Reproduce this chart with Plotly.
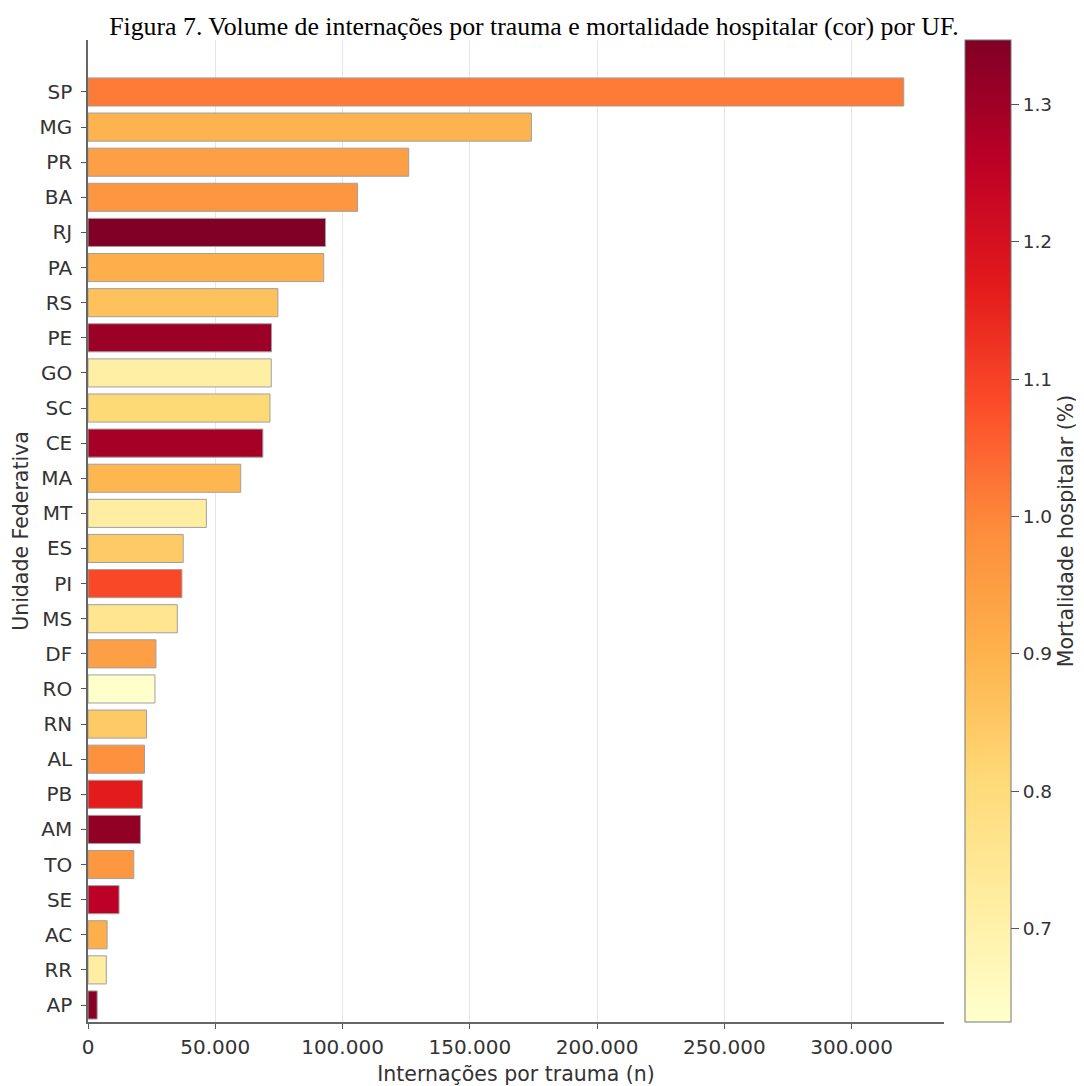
import plotly.graph_objects as go

ufs = ["SP", "MG", "PR", "BA", "RJ", "PA", "RS", "PE", "GO", "SC", "CE", "MA", "MT", "ES",
       "PI", "MS", "DF", "RO", "RN", "AL", "PB", "AM", "TO", "SE", "AC", "RR", "AP"]
internacoes = [320500, 174200, 126000, 105900, 93300, 92600, 74600, 72100, 72000, 71500,
               68700, 60000, 46500, 37400, 36900, 35100, 26700, 26300, 23000, 22200,
               21400, 20600, 18000, 12200, 7500, 7200, 3600]
mortalidade = [1.016, 0.895, 0.945, 0.967, 1.347, 0.909, 0.866, 1.305, 0.713, 0.808,
               1.29, 0.89, 0.72, 0.845, 1.09, 0.757, 0.945, 0.632, 0.845, 0.98,
               1.167, 1.32, 0.965, 1.258, 0.91, 0.72, 1.335]
x_ticks = [0, 50000, 100000, 150000, 200000, 250000, 300000]
x_ticklabels = ["0", "50.000", "100.000", "150.000", "200.000", "250.000", "300.000"]
cb_ticks = [0.7, 0.8, 0.9, 1.0, 1.1, 1.2, 1.3]

ylorrd = [[0.0, "#ffffcc"], [0.125, "#ffeda0"], [0.25, "#fed976"], [0.375, "#feb24c"],
          [0.5, "#fd8d3c"], [0.625, "#fc4e2a"], [0.75, "#e31a1c"], [0.875, "#bd0026"],
          [1.0, "#800026"]]

tick_font = dict(family="DejaVu Sans", size=20, color="#333333")
cb_tick_font = dict(family="DejaVu Sans", size=18.5, color="#333333")
label_font = dict(family="DejaVu Sans", size=20.5, color="#333333")

fig = go.Figure(go.Bar(
    x=internacoes, y=ufs, orientation="h", width=0.8,
    marker=dict(
        color=mortalidade, colorscale=ylorrd,
        cmin=min(mortalidade), cmax=max(mortalidade),
        line=dict(color="#a0a0a0", width=1),
        colorbar=dict(
            title=dict(text="Mortalidade hospitalar (%)", side="right", font=label_font),
            tickvals=cb_ticks, ticktext=[f"{v:.1f}" for v in cb_ticks],
            tickfont=cb_tick_font, ticks="outside", ticklen=8, tickcolor="#555555",
            thickness=46, thicknessmode="pixels",
            len=982, lenmode="pixels",
            x=1.0245, xanchor="left", y=0, yanchor="bottom",
            xpad=0, ypad=0,
            outlinewidth=1, outlinecolor="#777777",
        ),
    ),
    hovertemplate="%{y}: %{x}<extra></extra>",
))

fig.update_layout(
    width=1076, height=1078,
    margin=dict(l=80, r=140, t=32, b=64, autoexpand=False),
    paper_bgcolor="white", plot_bgcolor="white",
    title=dict(text="Figura 7. Volume de internações por trauma e mortalidade hospitalar (cor) por UF.",
               font=dict(family="Liberation Serif", size=25.8, color="black"),
               x=0.4888, xanchor="center", y=0.9833, yanchor="middle"),
    showlegend=False,
    xaxis=dict(
        range=[0, 336300], tickvals=x_ticks, ticktext=x_ticklabels,
        tickfont=tick_font, ticks="outside", ticklen=5, tickcolor="#555555",
        ticklabelstandoff=1,
        showgrid=True, gridcolor="#e6e6e6", gridwidth=1,
        showline=True, linecolor="#666666", linewidth=1.5,
        zeroline=False,
        title=dict(text="Internações por trauma (n)", font=label_font, standoff=9),
    ),
    yaxis=dict(
        range=[26.484, -1.48], tickfont=tick_font, ticks="outside", ticklen=5,
        tickcolor="#555555", showgrid=False, ticklabelstandoff=5,
        showline=True, linecolor="#666666", linewidth=1.5,
        title=dict(text="Unidade Federativa", font=label_font, standoff=5),
    ),
)

fig.write_html("out.html")
